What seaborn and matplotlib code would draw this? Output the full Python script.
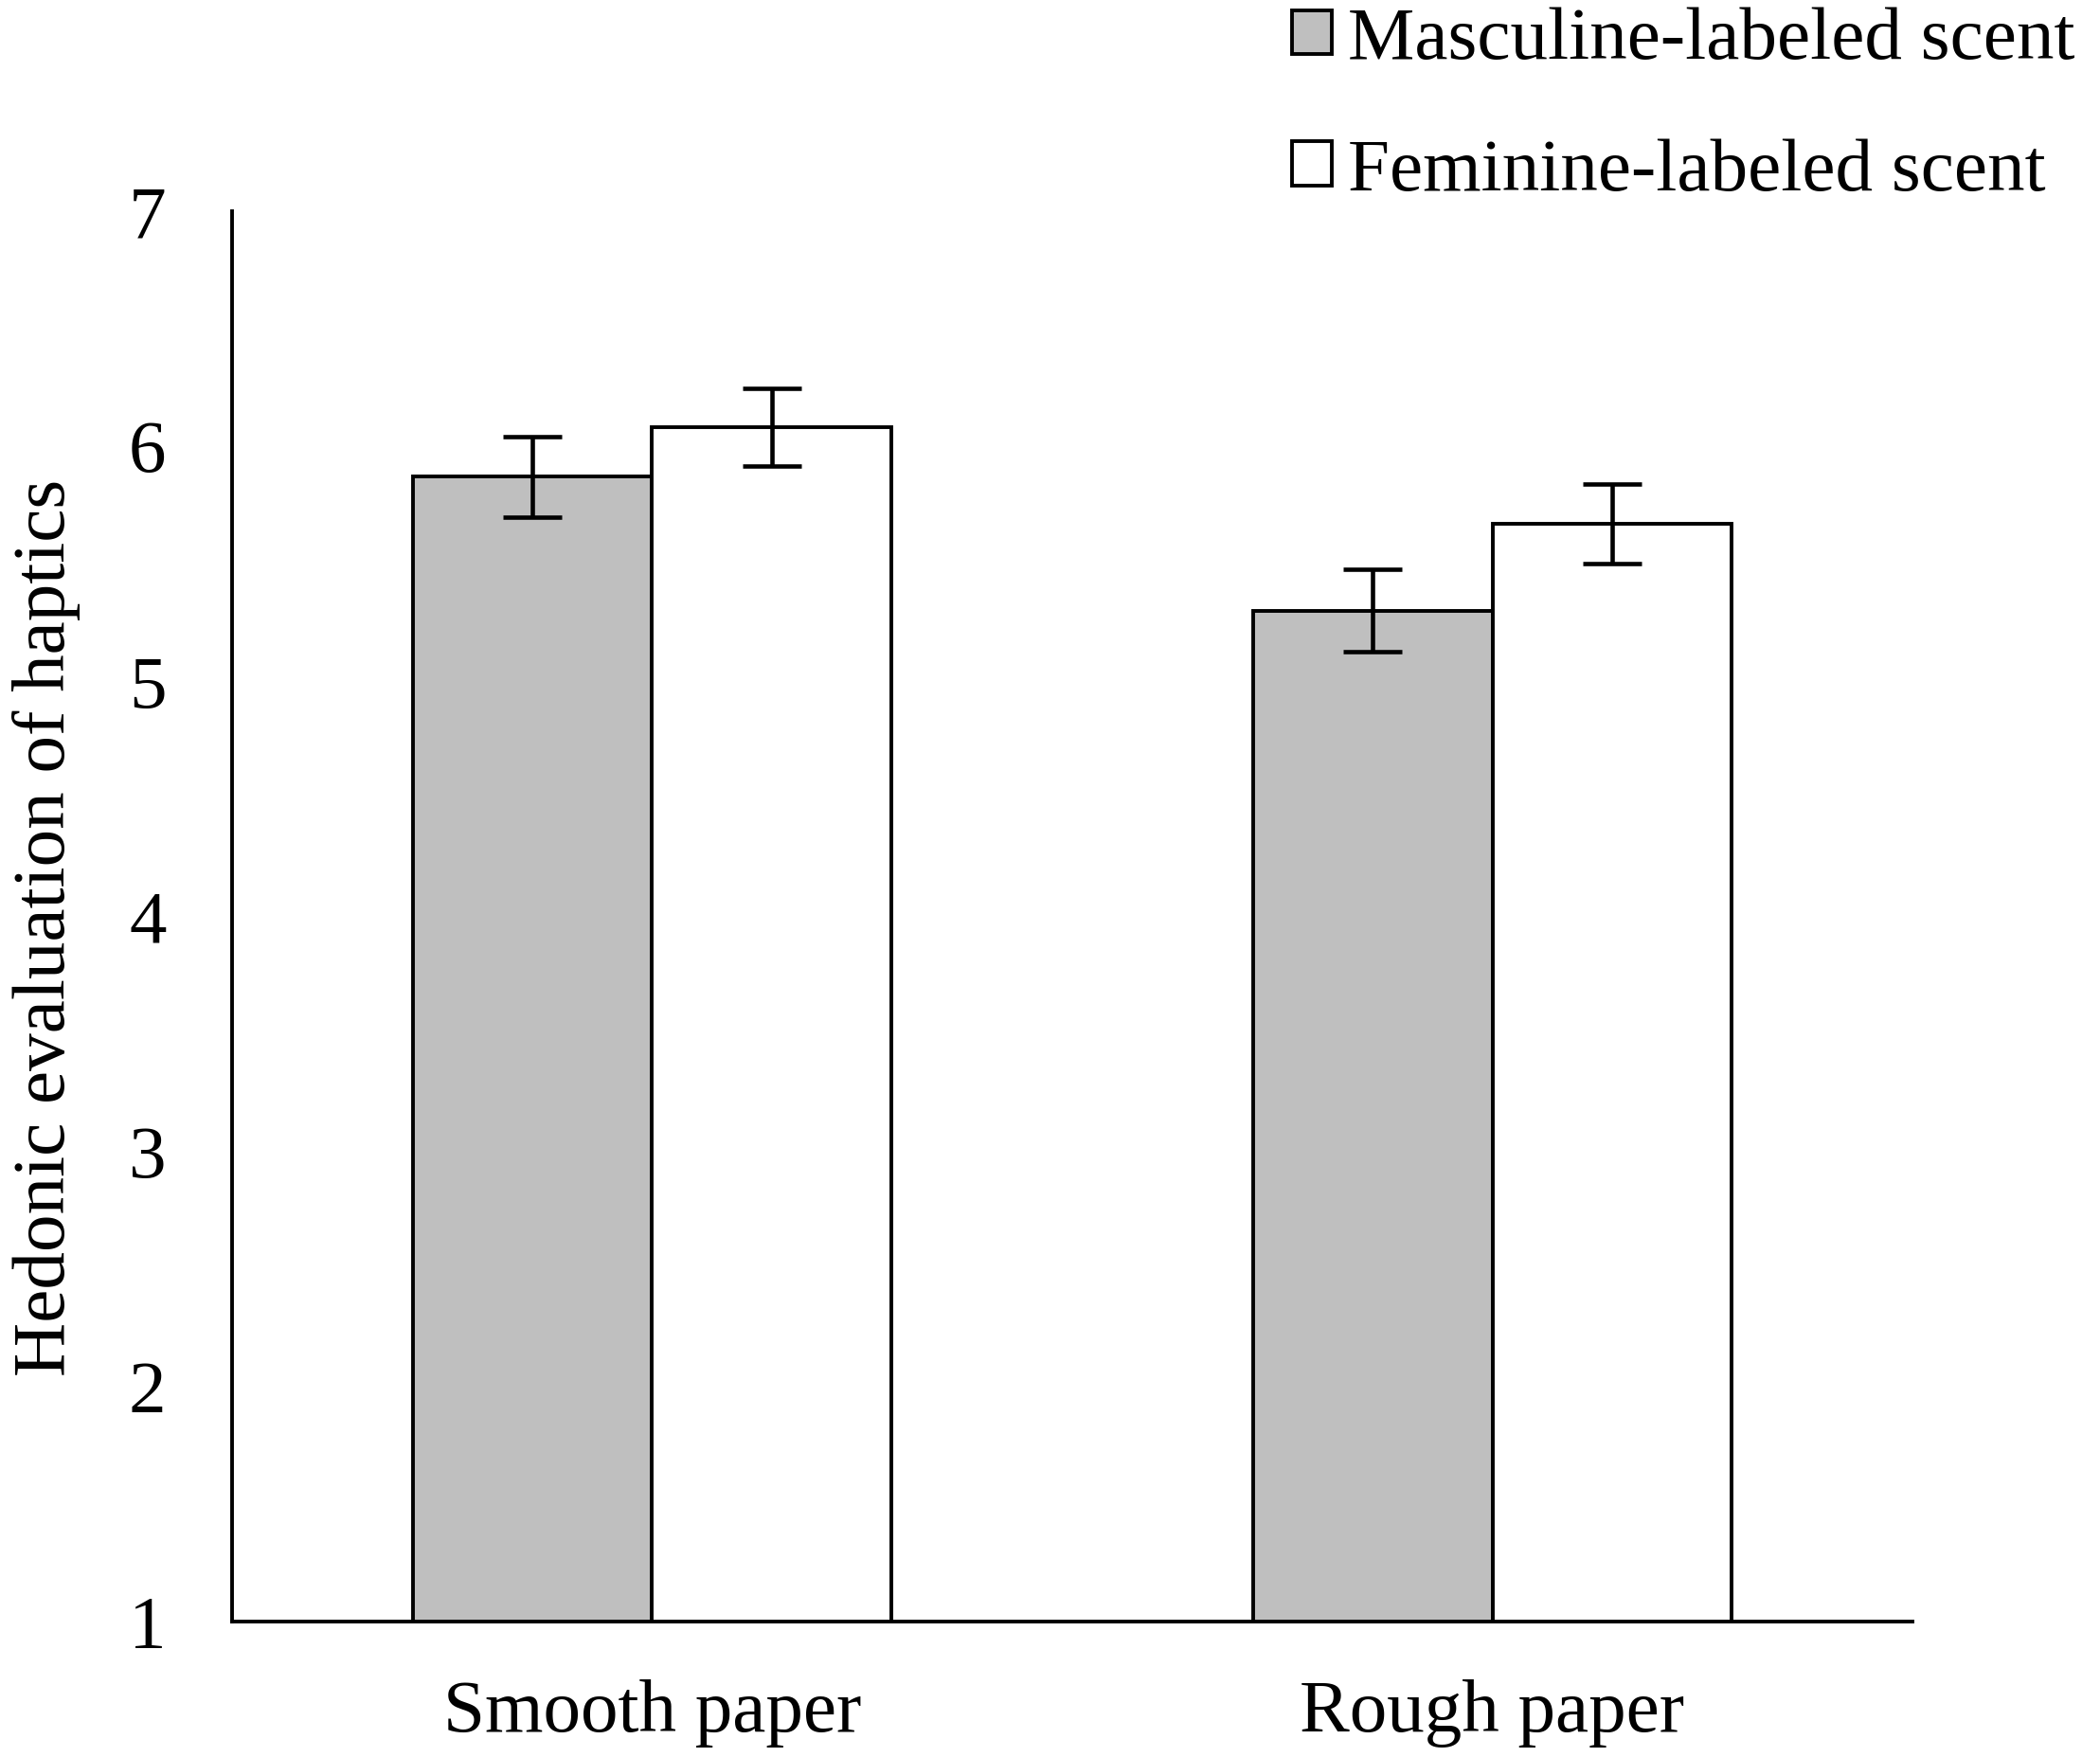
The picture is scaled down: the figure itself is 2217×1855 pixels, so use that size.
import pandas as pd
import numpy as np
import matplotlib
matplotlib.use('Agg')
import matplotlib.pyplot as plt
import seaborn as sns

# Data
papers = ['Smooth paper', 'Rough paper']
scents = ['Masculine-labeled scent', 'Feminine-labeled scent']
masculine_mean = [5.87, 5.30]
feminine_mean = [6.08, 5.67]
masculine_err = [0.17, 0.175]
feminine_err = [0.165, 0.17]

df = pd.DataFrame({
    'paper': papers + papers,
    'scent': [scents[0]] * 2 + [scents[1]] * 2,
    'mean': masculine_mean + feminine_mean,
    'err': masculine_err + feminine_err,
})

sns.set_style('white')
plt.rcParams['font.family'] = ['Liberation Serif', 'DejaVu Serif']
plt.rcParams['font.size'] = 57
for k in ['text.color', 'axes.labelcolor', 'xtick.color', 'ytick.color']:
    plt.rcParams[k] = 'black'

fig, ax = plt.subplots(figsize=(22.17, 18.55), dpi=100)
fig.subplots_adjust(left=0.1105, right=0.9107, bottom=0.0771, top=0.8798)

sns.barplot(data=df, x='paper', y='mean', hue='scent', order=papers, hue_order=scents,
            palette=['#bfbfbf', '#ffffff'], edgecolor='black', linewidth=2.8,
            width=0.57, saturation=1, errorbar=None, ax=ax)

# error bars at bar centres (patches are ordered by hue then category)
bars = [p for p in ax.patches if p.get_height() > 0][:4]
xs = [b.get_x() + b.get_width() / 2 for b in bars]
ax.errorbar(xs, df['mean'], yerr=df['err'], fmt='none', ecolor='black',
            elinewidth=3.3, capsize=22, capthick=3.3, zorder=5)

ax.set_ylim(1, 7)
ax.set_xlim(-0.5, 1.5)
ax.set_yticks(range(1, 8))
ax.set_xlabel('')
ax.set_ylabel('Hedonic evaluation of haptics', fontsize=57)
ax.yaxis.set_label_coords(-0.090, 0.492)

for s in ['top', 'right']:
    ax.spines[s].set_visible(False)
for s in ['left', 'bottom']:
    ax.spines[s].set_linewidth(2.8)
    ax.spines[s].set_color('black')

ax.tick_params(axis='y', direction='in', length=16, width=2.8, pad=50, labelsize=57)
ax.tick_params(axis='x', length=0, pad=44, labelsize=57)

handles, labels = ax.get_legend_handles_labels()
for h in handles:
    h.set_edgecolor('black')
    h.set_linewidth(2.8)
ax.legend(handles, labels, loc='upper left', bbox_to_anchor=(1364 / 2217, 0.996),
          bbox_transform=fig.transFigure, frameon=False, fontsize=57,
          handlelength=0.53, handleheight=0.53, handletextpad=0.22,
          labelspacing=0.85, borderpad=0, borderaxespad=0)

plt.savefig('out.png', dpi=100)
